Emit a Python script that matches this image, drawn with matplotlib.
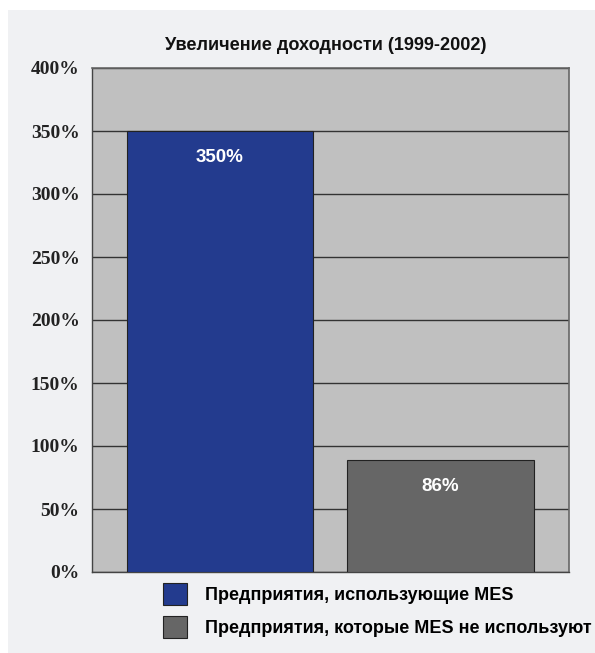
"""Рост доходности предприятий с MES и без (1999-2002)."""

import matplotlib.pyplot as plt
from matplotlib.patches import Rectangle

categories = ["Предприятия, использующие MES",
              "Предприятия, которые MES не используют"]
values = [350, 89]
value_labels = ["350%", "86%"]
colors = ["#233b8e", "#666666"]
yticks = [0, 50, 100, 150, 200, 250, 300, 350, 400]
ytick_labels = ["0%", "50%", "100%", "150%", "200%", "250%", "300%", "350%", "400%"]
title = "Увеличение доходности (1999-2002)"

sans = ["Liberation Sans", "DejaVu Sans"]
serif = ["Liberation Serif", "DejaVu Serif"]

fig = plt.figure(figsize=(5.95, 6.53), dpi=100, facecolor="white")
fig.patches.append(Rectangle((8 / 595, 0), 1, 1 - 10 / 653, transform=fig.transFigure,
                             facecolor="#f0f1f3", edgecolor="none", zorder=-1))

ax = fig.add_axes([92 / 595, 1 - 572 / 653, 477 / 595, 504 / 653])
ax.set_facecolor("#c0c0c0")

x = range(len(values))
bars = ax.bar(x, values, width=0.845, color=colors, edgecolor="#222222",
              linewidth=0.8, zorder=3)

for rect, lab in zip(bars, value_labels):
    ax.annotate(lab, (rect.get_x() + rect.get_width() / 2, rect.get_height()),
                xytext=(0, -19), textcoords="offset points", ha="center", va="center",
                color="white", fontsize=13.5, fontweight="bold", family=sans, zorder=4)

ax.set_xlim(-0.58, 1.583)
ax.set_ylim(0, 400)
ax.set_yticks(yticks)
ax.set_yticklabels(ytick_labels, family=serif, fontweight="bold", fontsize=14,
                   color="#222222")
ax.set_xticks([])
ax.tick_params(axis="y", length=0, pad=9)
ax.yaxis.grid(True, color="#333333", linewidth=1.0, zorder=1)
ax.set_axisbelow(True)

for side in ["top", "right"]:
    ax.spines[side].set_color("#666666")
    ax.spines[side].set_linewidth(1.2)
for side in ["left", "bottom"]:
    ax.spines[side].set_color("#444444")
    ax.spines[side].set_linewidth(1.0)

fig.text(326 / 595, 1 - 45 / 653, title, ha="center", va="center",
         fontsize=13.1, fontweight="bold", family=sans, color="#111111")

fig.legend(bars, categories, loc="upper left",
           bbox_to_anchor=(163 / 595, 1 - 583 / 653), frameon=False,
           prop={"family": sans, "weight": "bold", "size": 13},
           handlelength=1.33, handleheight=1.5, handletextpad=1.0,
           labelspacing=0.6, borderpad=0, borderaxespad=0)

fig.savefig("out.png", dpi=100, facecolor=fig.get_facecolor())
